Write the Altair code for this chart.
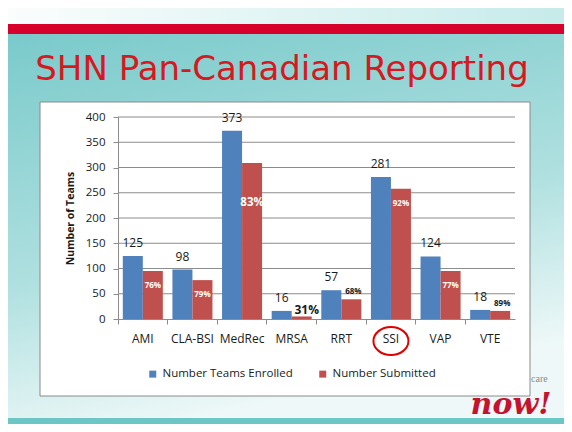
import altair as alt
import pandas as pd

# ---- data ----
categories = ["AMI", "CLA-BSI", "MedRec", "MRSA", "RRT", "SSI", "VAP", "VTE"]
enrolled = [125, 98, 373, 16, 57, 281, 124, 18]
submitted = [95, 77, 309, 5, 39, 258, 95, 16]
pct_labels = ["76%", "79%", "83%", "31%", "68%", "92%", "77%", "89%"]
pct_style = ["in_small", "in_small", "in_big", "out_big", "out_small", "in_small", "in_small", "out_small"]
series = ["Number Teams Enrolled", "Number Submitted"]
colors = ["#4f81bd", "#c0504d"]
y_ticks = [0, 50, 100, 150, 200, 250, 300, 350, 400]
circled = ["SSI"]
title_text = "SHN Pan-Canadian Reporting"

W, H = 397, 202

rows = []
for c, e, s, p, st in zip(categories, enrolled, submitted, pct_labels, pct_style):
    rows.append({"cat": c, "series": series[0], "value": e, "label": str(e), "style": "value"})
    rows.append({"cat": c, "series": series[1], "value": s, "label": p, "style": st})
df = pd.DataFrame(rows)
one = pd.DataFrame({"d": [0]})
circ_df = pd.DataFrame({"cat": circled})
grid_df = pd.DataFrame({"value": y_ticks[1:]})

FONT = "Open Sans"
GRID = "#8c8c8c"

x_axis = alt.Axis(title=None, labelAngle=0, bandPosition=0, tickSize=5,
                  labelPadding=9, labelFont=FONT, labelFontSize=12,
                  labelColor="#1a1a1a", domainColor=GRID, tickColor=GRID, zindex=1)
x_scale = alt.Scale(paddingInner=0, paddingOuter=0)
y_axis = alt.Axis(values=y_ticks, title="Number of Teams", grid=False,
                  domainColor=GRID, tickColor=GRID, labelOverlap=False,
                  tickSize=5, labelPadding=8, labelFont=FONT,
                  labelFontSize=11.5, labelColor="#1a1a1a",
                  titleFont=FONT, titleFontSize=10.5, titleFontWeight="bold",
                  titleColor="#1a1a1a", titlePadding=10, zindex=1)
y_scale = alt.Scale(domain=[0, 400])

def X():
    return alt.X("cat:N", sort=categories, scale=x_scale, axis=x_axis)

def Y():
    return alt.Y("value:Q", scale=y_scale, axis=y_axis)

xo_enc = alt.XOffset("series:N", sort=series,
                     scale=alt.Scale(paddingOuter=0.24, paddingInner=0))

def deco_rect(x, x2, y, y2, **kw):
    return alt.Chart(one).mark_rect(**kw).encode(
        x=alt.value(x), x2=alt.value(x2), y=alt.value(y), y2=alt.value(y2))

bg = deco_rect(-110, 446, -83, 307, color=alt.LinearGradient(
    gradient="linear", x1=0, x2=0.3, y1=0, y2=1,
    stops=[alt.GradientStop(color="#7acacb", offset=0),
           alt.GradientStop(color="#b0e0e0", offset=0.6),
           alt.GradientStop(color="#eef8f8", offset=1)]))
top_strip = deco_rect(-110, 446, -109, -93, color=alt.LinearGradient(
    gradient="linear", x1=0, x2=1, y1=0, y2=0,
    stops=[alt.GradientStop(color="#fbfdfd", offset=0),
           alt.GradientStop(color="#c6ebea", offset=1)]))
red_band = deco_rect(-110, 446, -93, -83, color="#d6002a")
bottom_band = deco_rect(-110, 446, 301, 307, color="#6cc6c6")
box = deco_rect(-78, 412, -15, 279, fill="#ffffff", stroke="#8a8a8a", strokeWidth=1)

title = alt.Chart(one).mark_text(text=title_text, font="DejaVu Sans", fontSize=34,
                                 color="#d7191f", align="center",
                                 baseline="alphabetic").encode(
    x=alt.value(164), y=alt.value(-37))
care = alt.Chart(one).mark_text(text="care", font="Liberation Serif", fontSize=10,
                                color="#8a8a8a", align="left", baseline="middle").encode(
    x=alt.value(413), y=alt.value(262))
now = alt.Chart(one).mark_text(text="now!", font="DejaVu Serif", fontStyle="italic",
                               fontWeight="bold", fontSize=30, color="#c4122f",
                               align="center", baseline="alphabetic").encode(
    x=alt.value(393), y=alt.value(297))

gridlines = alt.Chart(grid_df).mark_rule(color=GRID, strokeWidth=1).encode(
    y=Y(), x=alt.value(0), x2=alt.value(W))

base = alt.Chart(df)
bars = base.mark_bar().encode(
    x=X(), xOffset=xo_enc, y=Y(),
    color=alt.Color("series:N", sort=series,
                    scale=alt.Scale(domain=series, range=colors),
                    legend=alt.Legend(title=None, orient="none", legendX=29, legendY=251,
                                      direction="horizontal", symbolType="square",
                                      symbolSize=49, symbolStrokeWidth=0,
                                      labelFont=FONT, labelFontSize=11.5,
                                      labelColor="#1a1a1a", columnPadding=24,
                                      labelOffset=4, zindex=1)))

def label_layer(style, **kw):
    return base.transform_filter(alt.datum.style == style).mark_text(**kw).encode(
        x=X(), xOffset=xo_enc, y=Y(), text="label:N")

val_labels = label_layer("value", font=FONT, fontSize=12, color="#1a1a1a",
                         baseline="alphabetic", dy=-9)
in_small = label_layer("in_small", font=FONT, fontSize=8, fontWeight="bold",
                       color="#ffffff", baseline="middle", dy=15)
in_big = label_layer("in_big", font=FONT, fontSize=11.5, fontWeight="bold",
                     color="#ffffff", baseline="middle", dy=40)
out_small = label_layer("out_small", font=FONT, fontSize=8, fontWeight="bold",
                        color="#1a1a1a", baseline="middle", dy=-7, dx=2)
out_big = label_layer("out_big", font=FONT, fontSize=12, fontWeight="bold",
                      color="#1a1a1a", baseline="alphabetic", dy=-2, dx=5)

ellipse = alt.Chart(circ_df).mark_point(
    shape="M-1.25,0A1.25,1,0,1,0,1.25,0A1.25,1,0,1,0,-1.25,0Z",
    size=784, filled=False, stroke="#e00000", strokeWidth=2, opacity=1).encode(
    x=X(), y=alt.value(224))

chart = alt.layer(
    bg, top_strip, red_band, bottom_band, box, title, care, now, gridlines,
    bars, val_labels, in_small, in_big, out_small, out_big, ellipse
).properties(
    width=W, height=H,
    autosize=alt.AutoSizeParams(type="none"),
    padding={"left": 110, "top": 109, "right": 49, "bottom": 105},
).configure_view(stroke=None).configure(background="#ffffff")

chart.save("out.html", embed_options={"renderer": "svg", "actions": False})
